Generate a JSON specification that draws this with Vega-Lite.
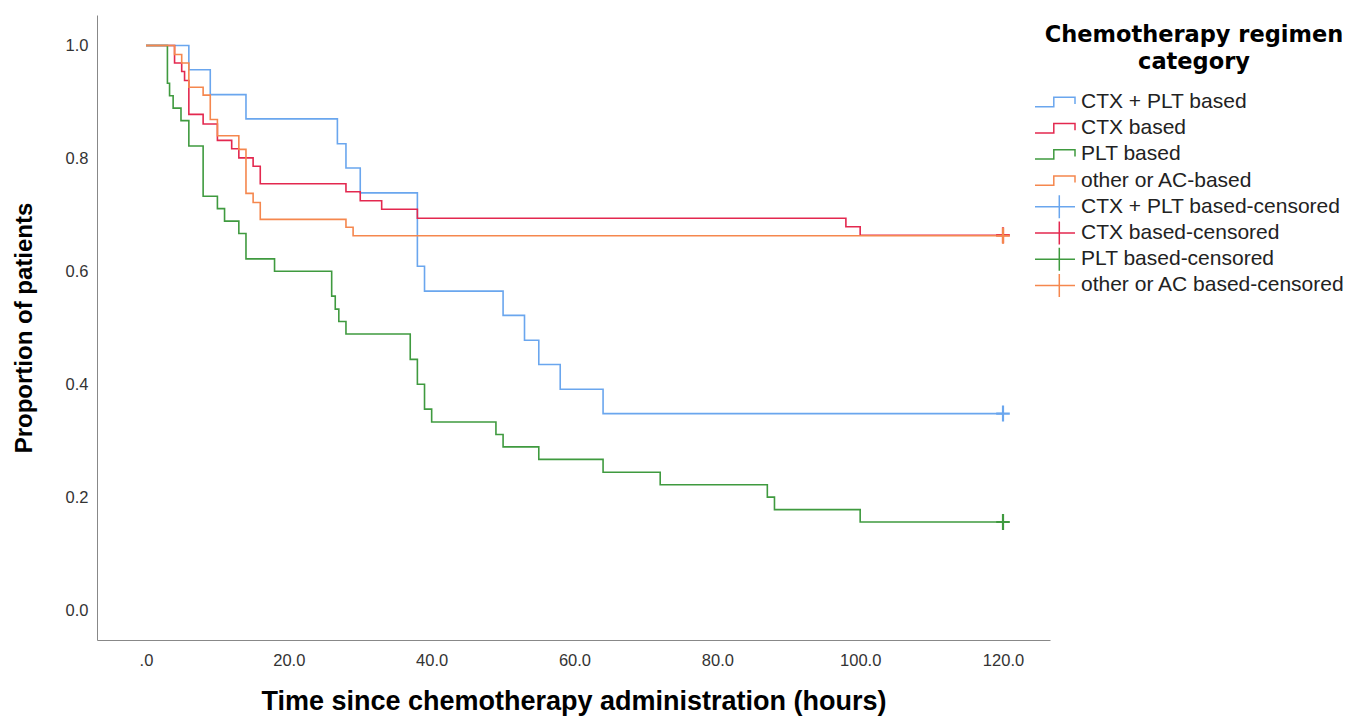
{
  "$schema": "https://vega.github.io/schema/vega-lite/v6.json",
  "width": 953,
  "height": 625,
  "autosize": "none",
  "padding": {"left": 97, "top": 15, "right": 308, "bottom": 77},
  "config": {
    "view": {"stroke": null},
    "font": "Liberation Sans",
    "axis": {"ticks": false, "grid": false, "domainColor": "#888888", "domainWidth": 1, "labelColor": "#333333", "labelFontSize": 16.5, "titleColor": "#000000", "titleFontWeight": "bold", "labelFont": "Liberation Sans", "titleFont": "Liberation Sans"}
  },
  "datasets": {
    "curves": [
      {"group": "CTX + PLT based", "t": 0, "s": 1},
      {"group": "CTX + PLT based", "t": 6, "s": 0.957},
      {"group": "CTX + PLT based", "t": 9, "s": 0.913},
      {"group": "CTX + PLT based", "t": 14, "s": 0.870},
      {"group": "CTX + PLT based", "t": 26.8, "s": 0.826},
      {"group": "CTX + PLT based", "t": 28, "s": 0.783},
      {"group": "CTX + PLT based", "t": 30, "s": 0.739},
      {"group": "CTX + PLT based", "t": 38, "s": 0.609},
      {"group": "CTX + PLT based", "t": 39, "s": 0.565},
      {"group": "CTX + PLT based", "t": 50, "s": 0.522},
      {"group": "CTX + PLT based", "t": 53, "s": 0.478},
      {"group": "CTX + PLT based", "t": 55, "s": 0.435},
      {"group": "CTX + PLT based", "t": 58, "s": 0.391},
      {"group": "CTX + PLT based", "t": 64, "s": 0.348},
      {"group": "CTX + PLT based", "t": 120, "s": 0.348},
      {"group": "CTX based", "t": 0, "s": 1},
      {"group": "CTX based", "t": 4, "s": 0.969},
      {"group": "CTX based", "t": 5, "s": 0.954},
      {"group": "CTX based", "t": 5.4, "s": 0.938},
      {"group": "CTX based", "t": 6, "s": 0.878},
      {"group": "CTX based", "t": 8, "s": 0.861},
      {"group": "CTX based", "t": 10, "s": 0.832},
      {"group": "CTX based", "t": 12, "s": 0.817},
      {"group": "CTX based", "t": 13, "s": 0.801},
      {"group": "CTX based", "t": 15, "s": 0.786},
      {"group": "CTX based", "t": 16, "s": 0.755},
      {"group": "CTX based", "t": 28, "s": 0.741},
      {"group": "CTX based", "t": 30, "s": 0.725},
      {"group": "CTX based", "t": 33, "s": 0.710},
      {"group": "CTX based", "t": 38, "s": 0.694},
      {"group": "CTX based", "t": 98, "s": 0.679},
      {"group": "CTX based", "t": 100, "s": 0.664},
      {"group": "CTX based", "t": 120, "s": 0.664},
      {"group": "PLT based", "t": 0, "s": 1},
      {"group": "PLT based", "t": 3, "s": 0.933},
      {"group": "PLT based", "t": 3.3, "s": 0.911},
      {"group": "PLT based", "t": 3.8, "s": 0.889},
      {"group": "PLT based", "t": 4.9, "s": 0.867},
      {"group": "PLT based", "t": 6, "s": 0.822},
      {"group": "PLT based", "t": 8, "s": 0.733},
      {"group": "PLT based", "t": 10, "s": 0.711},
      {"group": "PLT based", "t": 11, "s": 0.689},
      {"group": "PLT based", "t": 13, "s": 0.667},
      {"group": "PLT based", "t": 14, "s": 0.622},
      {"group": "PLT based", "t": 18, "s": 0.600},
      {"group": "PLT based", "t": 26, "s": 0.556},
      {"group": "PLT based", "t": 26.5, "s": 0.533},
      {"group": "PLT based", "t": 27, "s": 0.511},
      {"group": "PLT based", "t": 28, "s": 0.489},
      {"group": "PLT based", "t": 37, "s": 0.444},
      {"group": "PLT based", "t": 38, "s": 0.400},
      {"group": "PLT based", "t": 39, "s": 0.356},
      {"group": "PLT based", "t": 40, "s": 0.333},
      {"group": "PLT based", "t": 49, "s": 0.311},
      {"group": "PLT based", "t": 50, "s": 0.289},
      {"group": "PLT based", "t": 55, "s": 0.267},
      {"group": "PLT based", "t": 64, "s": 0.244},
      {"group": "PLT based", "t": 72, "s": 0.222},
      {"group": "PLT based", "t": 87, "s": 0.200},
      {"group": "PLT based", "t": 88, "s": 0.178},
      {"group": "PLT based", "t": 100, "s": 0.156},
      {"group": "PLT based", "t": 120, "s": 0.156},
      {"group": "other or AC-based", "t": 0, "s": 1},
      {"group": "other or AC-based", "t": 4, "s": 0.984},
      {"group": "other or AC-based", "t": 5, "s": 0.969},
      {"group": "other or AC-based", "t": 6, "s": 0.926},
      {"group": "other or AC-based", "t": 8, "s": 0.912},
      {"group": "other or AC-based", "t": 9, "s": 0.869},
      {"group": "other or AC-based", "t": 10, "s": 0.840},
      {"group": "other or AC-based", "t": 13, "s": 0.816},
      {"group": "other or AC-based", "t": 14, "s": 0.738},
      {"group": "other or AC-based", "t": 15, "s": 0.722},
      {"group": "other or AC-based", "t": 16, "s": 0.692},
      {"group": "other or AC-based", "t": 28, "s": 0.678},
      {"group": "other or AC-based", "t": 29, "s": 0.663},
      {"group": "other or AC-based", "t": 120, "s": 0.663}
    ],
    "censored": [
      {"group": "CTX + PLT based-censored", "t": 120, "s": 0.348},
      {"group": "CTX based-censored", "t": 120, "s": 0.664},
      {"group": "PLT based-censored", "t": 120, "s": 0.156},
      {"group": "other or AC based-censored", "t": 120, "s": 0.663}
    ]
  },
  "layer": [
    {
      "data": {"name": "curves"},
      "mark": {"type": "line", "interpolate": "step-after", "strokeWidth": 1.6},
      "encoding": {
        "x": {"field": "t", "type": "quantitative", "scale": {"domain": [-6.86, 126.58], "nice": false, "zero": false},
          "axis": {"values": [0, 20, 40, 60, 80, 100, 120], "labelExpr": "datum.value == 0 ? '.0' : format(datum.value, '.1f')", "labelPadding": 12, "title": "Time since chemotherapy administration (hours)", "titleFontSize": 27, "titlePadding": 20}},
        "y": {"field": "s", "type": "quantitative", "scale": {"domain": [-0.053, 1.054], "nice": false, "zero": false},
          "axis": {"values": [0, 0.2, 0.4, 0.6, 0.8, 1], "format": ".1f", "labelPadding": 9, "title": "Proportion of patients", "titleFontSize": 24, "titlePadding": 29}},
        "color": {"field": "group", "type": "nominal",
          "scale": {"domain": ["CTX + PLT based", "CTX based", "PLT based", "other or AC-based", "CTX + PLT based-censored", "CTX based-censored", "PLT based-censored", "other or AC based-censored"],
            "range": ["#6aa6ee", "#e3284f", "#3f9a3f", "#f5874e", "#6aa6ee", "#e3284f", "#3f9a3f", "#f5874e"]},
          "legend": null}
      }
    },
    {
      "data": {"name": "censored"},
      "mark": {"type": "point", "shape": "M-0.85,0H0.85M0,-1V1", "size": 256, "strokeWidth": 2.2, "opacity": 1},
      "encoding": {
        "x": {"field": "t", "type": "quantitative"},
        "y": {"field": "s", "type": "quantitative"},
        "color": {"field": "group", "type": "nominal", "legend": null}
      }
    },
    {
      "data": {"name": "censored"},
      "mark": {"type": "point", "opacity": 0},
      "encoding": {
        "x": {"field": "t", "type": "quantitative"},
        "y": {"field": "s", "type": "quantitative"},
        "color": {"field": "group", "type": "nominal",
          "legend": {"title": ["Chemotherapy regimen", "category"], "orient": "none", "legendX": 947, "legendY": 9, "padding": 0,
            "titleFont": "DejaVu Sans", "titleFontSize": 22.5, "titleFontWeight": "bold", "titleColor": "#000000", "titleAlign": "center", "titleAnchor": "middle", "titleLineHeight": 26.5, "titlePadding": 18, "titleLimit": 500,
            "labelFontSize": 21, "labelColor": "#222222", "labelOffset": 15, "labelLimit": 500, "symbolSize": 400, "symbolStrokeWidth": 1.5, "symbolOpacity": 1, "rowPadding": -3.8}},
        "shape": {"field": "group", "type": "nominal",
          "scale": {"domain": ["CTX + PLT based", "CTX based", "PLT based", "other or AC-based", "CTX + PLT based-censored", "CTX based-censored", "PLT based-censored", "other or AC based-censored"],
            "range": ["M0,-1.15M0,1.15M-2,0.47H-0.12V-0.47H2V0.2", "M0,-1.15M0,1.15M-2,0.47H-0.12V-0.47H2V0.2", "M0,-1.15M0,1.15M-2,0.47H-0.12V-0.47H2V0.2", "M0,-1.15M0,1.15M-2,0.47H-0.12V-0.47H2V0.2", "M-2,0H2M0.43,-1.15V1.15", "M-2,0H2M0.43,-1.15V1.15", "M-2,0H2M0.43,-1.15V1.15", "M-2,0H2M0.43,-1.15V1.15"]},
          "legend": {"title": ["Chemotherapy regimen", "category"], "orient": "none", "legendX": 947, "legendY": 9}}
      }
    }
  ],
  "resolve": {"legend": {"color": "independent", "shape": "independent"}}
}
